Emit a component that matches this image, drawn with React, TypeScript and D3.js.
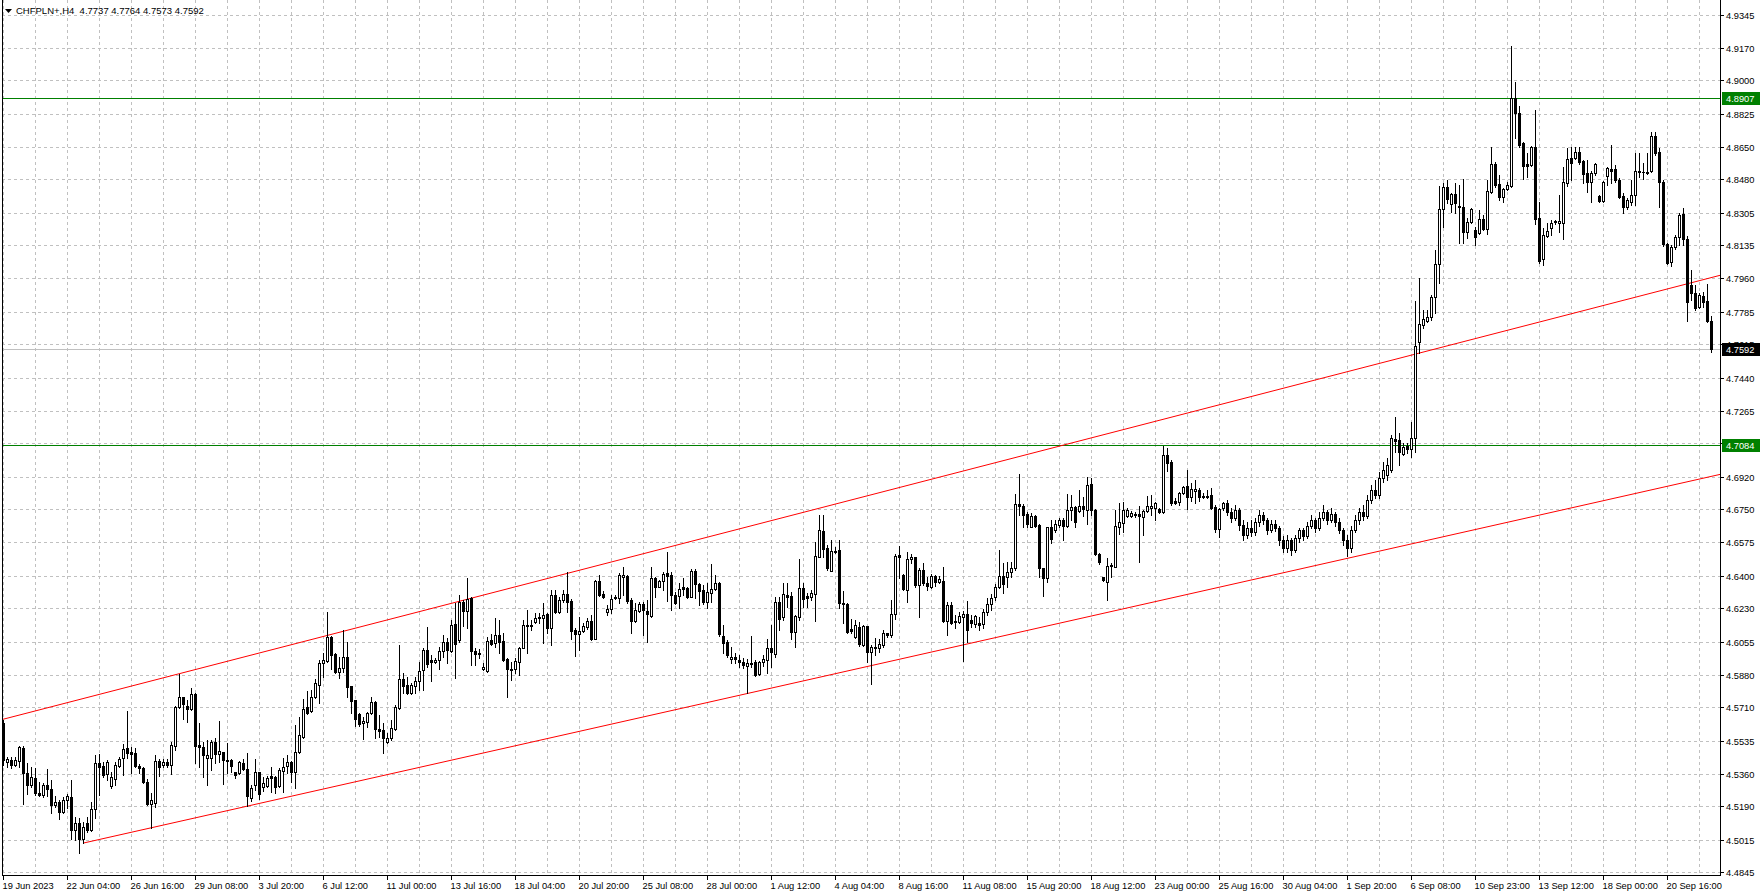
import React from "react";
import * as d3 from "d3";

const symbolTitle = "CHFPLN+,H4";
const titleValues = ["4.7737", "4.7764", "4.7573", "4.7592"];

const opens = [
4.5628,4.5423,4.5434,4.5407,4.5428,4.5497,4.5365,4.5302,4.5339,4.5261,
4.5250,4.5302,4.5281,4.5198,4.5213,4.5161,4.5224,4.5240,4.5066,4.5103,
4.5019,4.5103,4.5066,4.5177,4.5418,4.5402,4.5360,4.5297,4.5334,4.5402,
4.5444,4.5497,4.5476,4.5470,4.5402,4.5392,4.5318,4.5203,4.5208,4.5428,
4.5407,4.5423,4.5407,4.5507,4.5712,4.5764,4.5717,4.5701,4.5780,4.5512,
4.5502,4.5444,4.5444,4.5528,4.5465,4.5476,4.5434,4.5434,4.5371,4.5365,
4.5418,4.5386,4.5234,4.5302,4.5371,4.5292,4.5297,4.5350,4.5344,4.5297,
4.5376,4.5402,4.5423,4.5371,4.5476,4.5554,4.5712,4.5691,4.5764,4.5827,
4.5943,4.5953,4.6079,4.5990,4.5895,4.5916,4.5974,4.5822,4.5749,4.5675,
4.5628,4.5633,4.5680,4.5738,4.5596,4.5591,4.5528,4.5549,4.5596,4.5707,
4.5859,4.5827,4.5785,4.5822,4.5848,4.5906,4.6011,4.5958,4.5948,4.5958,
4.6006,4.6053,4.6006,4.6147,4.6063,4.6263,4.6215,4.6284,4.6006,4.5995,
4.5911,4.5901,4.6063,4.6048,4.6090,4.6058,4.5964,4.5911,4.5911,4.5948,
4.6021,4.6137,4.6137,4.6158,4.6179,4.6179,4.6200,4.6126,4.6299,4.6210,
4.6273,4.6305,4.6268,4.6116,4.6095,4.6111,4.6132,4.6163,4.6069,4.6373,
4.6305,4.6210,4.6226,4.6284,4.6284,4.6394,4.6399,4.6273,4.6163,4.6215,
4.6252,4.6215,4.6189,4.6389,4.6341,4.6373,4.6415,4.6404,4.6299,4.6294,
4.6341,4.6336,4.6289,4.6425,4.6357,4.6326,4.6263,4.6310,4.6331,4.6362,
4.6084,4.6053,4.5964,4.5974,4.5958,4.5948,4.5927,4.5943,4.5948,4.5885,
4.5948,4.5958,4.6021,4.5990,4.6263,4.6184,4.6299,4.6294,4.6105,4.6184,
4.6336,4.6294,4.6289,4.6305,4.6499,4.6635,4.6546,4.6425,4.6530,4.6536,
4.6257,4.6252,4.6121,4.6079,4.6132,4.6037,4.6137,4.6000,4.6027,4.6021,
4.6037,4.6100,4.6090,4.6200,4.6509,4.6404,4.6326,4.6488,4.6499,4.6352,
4.6431,4.6362,4.6341,4.6399,4.6368,4.6373,4.6163,4.6247,4.6163,4.6158,
4.6184,4.6200,4.6168,4.6147,4.6153,4.6147,4.6210,4.6252,4.6289,4.6341,
4.6399,4.6394,4.6420,4.6441,4.6777,4.6766,4.6724,4.6656,4.6714,4.6667,
4.6441,4.6389,4.6656,4.6640,4.6667,4.6693,4.6661,4.6745,4.6761,4.6740,
4.6766,4.6745,4.6882,4.6745,4.6514,4.6394,4.6368,4.6452,4.6446,4.6656,
4.6677,4.6714,4.6714,4.6724,4.6724,4.6709,4.6740,4.6756,4.6756,4.6751,
4.6735,4.7034,4.6997,4.6793,4.6787,4.6835,4.6871,4.6814,4.6845,4.6850,
4.6819,4.6819,4.6824,4.6761,4.6646,4.6756,4.6782,4.6735,4.6703,4.6745,
4.6667,4.6614,4.6651,4.6630,4.6682,4.6719,4.6693,4.6640,4.6672,4.6651,
4.6588,4.6546,4.6588,4.6536,4.6598,4.6640,4.6609,4.6661,4.6693,4.6651,
4.6703,4.6735,4.6693,4.6724,4.6682,4.6640,4.6588,4.6546,4.6640,4.6693,
4.6735,4.6714,4.6798,4.6850,4.6824,4.6913,4.6929,4.6955,4.7118,4.7113,
4.7039,4.7081,4.7065,4.7123,4.7627,4.7716,4.7737,4.7758,4.7863,4.8036,
4.8325,4.8440,4.8351,4.8403,4.8340,4.8335,4.8204,4.8256,4.8214,4.8199,
4.8272,4.8220,4.8414,4.8561,4.8456,4.8388,4.8430,4.8445,4.8907,4.8828,
4.8671,4.8561,4.8555,4.8650,4.8277,4.8062,4.8183,4.8225,4.8256,4.8251,
4.8251,4.8461,4.8592,4.8592,4.8624,4.8576,4.8513,4.8466,4.8513,4.8393,
4.8367,4.8498,4.8534,4.8534,4.8477,4.8393,4.8335,4.8361,4.8398,4.8519,
4.8519,4.8519,4.8524,4.8708,4.8624,4.8466,4.8141,4.8047,4.8125,4.8178,
4.8298,4.8167,4.7926,4.7884,4.7810,4.7868,4.7842,4.7737];

const highs = [
4.5644,4.5449,4.5449,4.5449,4.5507,4.5507,4.5418,4.5397,4.5392,4.5318,
4.5313,4.5386,4.5329,4.5245,4.5224,4.5240,4.5255,4.5329,4.5135,4.5129,
4.5108,4.5135,4.5213,4.5460,4.5465,4.5423,4.5434,4.5371,4.5423,4.5449,
4.5518,4.5691,4.5502,4.5497,4.5413,4.5397,4.5334,4.5261,4.5460,4.5439,
4.5439,4.5439,4.5528,4.5717,4.5885,4.5764,4.5749,4.5811,4.5785,4.5628,
4.5528,4.5539,4.5539,4.5549,4.5638,4.5476,4.5523,4.5439,4.5371,4.5428,
4.5439,4.5470,4.5302,4.5439,4.5371,4.5344,4.5350,4.5397,4.5350,4.5392,
4.5444,4.5460,4.5428,4.5617,4.5659,4.5754,4.5796,4.5801,4.5859,4.5958,
4.5995,4.6210,4.6084,4.5995,4.5974,4.6116,4.6053,4.5822,4.5749,4.5680,
4.5659,4.5686,4.5764,4.5743,4.5670,4.5628,4.5575,4.5644,4.5722,4.6037,
4.5890,4.5869,4.5838,4.5869,4.5948,4.6021,4.6132,4.5985,4.5969,4.6027,
4.6090,4.6074,4.6168,4.6257,4.6299,4.6273,4.6389,4.6289,4.6021,4.6016,
4.5943,4.6079,4.6095,4.6179,4.6168,4.6100,4.5969,4.5948,4.5969,4.6027,
4.6168,4.6221,4.6168,4.6205,4.6205,4.6257,4.6205,4.6326,4.6326,4.6289,
4.6326,4.6420,4.6278,4.6126,4.6184,4.6153,4.6179,4.6194,4.6378,4.6404,
4.6320,4.6247,4.6299,4.6299,4.6415,4.6446,4.6404,4.6284,4.6257,4.6263,
4.6263,4.6273,4.6446,4.6394,4.6378,4.6420,4.6525,4.6420,4.6315,4.6362,
4.6389,4.6341,4.6436,4.6436,4.6362,4.6352,4.6362,4.6462,4.6404,4.6368,
4.6142,4.6063,4.6027,4.5995,4.5985,4.5969,4.5964,4.6084,4.5958,4.5953,
4.5985,4.6069,4.6142,4.6289,4.6289,4.6362,4.6362,4.6315,4.6194,4.6488,
4.6362,4.6310,4.6326,4.6577,4.6719,4.6719,4.6562,4.6588,4.6551,4.6588,
4.6320,4.6257,4.6173,4.6168,4.6158,4.6142,4.6137,4.6037,4.6074,4.6069,
4.6116,4.6100,4.6273,4.6514,4.6556,4.6410,4.6525,4.6514,4.6499,4.6441,
4.6467,4.6394,4.6410,4.6404,4.6399,4.6446,4.6263,4.6263,4.6194,4.6210,
4.6215,4.6268,4.6194,4.6194,4.6184,4.6226,4.6284,4.6305,4.6357,4.6536,
4.6467,4.6472,4.6472,4.6829,4.6934,4.6777,4.6735,4.6730,4.6719,4.6672,
4.6441,4.6656,4.6693,4.6693,4.6703,4.6703,4.6829,4.6824,4.6766,4.6850,
4.6814,4.6919,4.6913,4.6751,4.6520,4.6394,4.6494,4.6467,4.6745,4.6782,
4.6787,4.6756,4.6740,4.6735,4.6766,4.6745,4.6819,4.6824,4.6787,4.6756,
4.7081,4.7071,4.7008,4.6808,4.6840,4.6871,4.6955,4.6887,4.6903,4.6861,
4.6835,4.6850,4.6861,4.6772,4.6756,4.6787,4.6798,4.6756,4.6772,4.6756,
4.6693,4.6682,4.6693,4.6703,4.6745,4.6735,4.6703,4.6693,4.6693,4.6661,
4.6609,4.6614,4.6598,4.6614,4.6651,4.6651,4.6682,4.6719,4.6703,4.6735,
4.6772,4.6745,4.6756,4.6735,4.6703,4.6651,4.6614,4.6661,4.6719,4.6756,
4.6772,4.6824,4.6877,4.6903,4.6945,4.6997,4.7018,4.7139,4.7233,4.7149,
4.7097,4.7097,4.7207,4.7842,4.7963,4.7795,4.7795,4.7873,4.8110,4.8445,
4.8461,4.8477,4.8409,4.8461,4.8450,4.8482,4.8277,4.8330,4.8230,4.8319,
4.8293,4.8477,4.8650,4.8571,4.8503,4.8435,4.8466,4.9180,4.8991,4.8865,
4.8676,4.8618,4.8655,4.8844,4.8361,4.8225,4.8251,4.8267,4.8267,4.8398,
4.8545,4.8645,4.8650,4.8650,4.8650,4.8582,4.8582,4.8524,4.8566,4.8398,
4.8472,4.8545,4.8660,4.8555,4.8487,4.8409,4.8382,4.8477,4.8618,4.8618,
4.8566,4.8618,4.8729,4.8729,4.8645,4.8477,4.8146,4.8136,4.8188,4.8304,
4.8330,4.8183,4.8005,4.7926,4.7884,4.7889,4.7931,4.7764];

const lows = [
4.5407,4.5397,4.5392,4.5402,4.5397,4.5203,4.5255,4.5292,4.5250,4.5245,
4.5240,4.5245,4.5156,4.5187,4.5124,4.5156,4.5182,4.5019,4.5014,4.4946,
4.4998,4.5056,4.5061,4.5129,4.5250,4.5344,4.5329,4.5287,4.5302,4.5397,
4.5355,4.5444,4.5365,4.5397,4.5365,4.5313,4.5198,4.5077,4.5187,4.5350,
4.5397,4.5397,4.5360,4.5486,4.5707,4.5649,4.5633,4.5696,4.5418,4.5397,
4.5344,4.5302,4.5381,4.5418,4.5423,4.5308,4.5365,4.5371,4.5339,4.5360,
4.5381,4.5192,4.5219,4.5276,4.5229,4.5271,4.5292,4.5266,4.5261,4.5292,
4.5266,4.5365,4.5318,4.5287,4.5470,4.5549,4.5675,4.5686,4.5759,4.5733,
4.5869,4.5948,4.5911,4.5890,4.5864,4.5895,4.5764,4.5680,4.5612,4.5612,
4.5544,4.5607,4.5675,4.5549,4.5554,4.5470,4.5523,4.5539,4.5591,4.5701,
4.5785,4.5780,4.5780,4.5785,4.5801,4.5801,4.5922,4.5848,4.5943,4.5911,
4.5974,4.5943,4.6000,4.5864,4.6053,4.6137,4.6126,4.5932,4.5932,4.5969,
4.5906,4.5895,4.6037,4.6027,4.5995,4.5953,4.5764,4.5853,4.5890,4.5880,
4.6021,4.5995,4.6116,4.6153,4.6153,4.6048,4.6100,4.6037,4.6205,4.6205,
4.6263,4.6210,4.6069,4.5979,4.6011,4.6105,4.6121,4.6063,4.6069,4.6294,
4.6284,4.6194,4.6205,4.6278,4.6257,4.6299,4.6257,4.6100,4.6158,4.6210,
4.6090,4.6053,4.6184,4.6289,4.6341,4.6326,4.6268,4.6221,4.6252,4.6231,
4.6299,4.6284,4.6289,4.6284,4.6247,4.6252,4.6231,4.6263,4.6326,4.6084,
4.5995,4.5974,4.5943,4.5943,4.5922,4.5916,4.5785,4.5922,4.5874,4.5880,
4.5927,4.5890,4.5922,4.5974,4.6116,4.6168,4.6236,4.6069,4.6027,4.6168,
4.6236,4.6236,4.6273,4.6163,4.6498,4.6499,4.6431,4.6425,4.6520,4.6231,
4.6153,4.6100,4.6100,4.6074,4.6032,4.6032,4.5948,4.5832,4.5985,4.6000,
4.6027,4.6079,4.6079,4.6173,4.6389,4.6326,4.6263,4.6467,4.6341,4.6184,
4.6352,4.6326,4.6336,4.6347,4.6362,4.6158,4.6090,4.6147,4.6126,4.6153,
4.5953,4.6053,4.6132,4.6132,4.6116,4.6126,4.6194,4.6221,4.6273,4.6336,
4.6310,4.6341,4.6394,4.6431,4.6719,4.6656,4.6656,4.6656,4.6656,4.6394,
4.6294,4.6368,4.6572,4.6630,4.6656,4.6588,4.6656,4.6693,4.6656,4.6735,
4.6714,4.6672,4.6719,4.6509,4.6462,4.6373,4.6273,4.6394,4.6446,4.6619,
4.6630,4.6709,4.6709,4.6709,4.6472,4.6614,4.6735,4.6719,4.6693,4.6730,
4.6730,4.6950,4.6772,4.6777,4.6772,4.6829,4.6751,4.6793,4.6782,4.6793,
4.6808,4.6808,4.6751,4.6630,4.6604,4.6745,4.6719,4.6682,4.6693,4.6640,
4.6588,4.6598,4.6609,4.6614,4.6661,4.6672,4.6619,4.6630,4.6635,4.6562,
4.6525,4.6525,4.6509,4.6525,4.6577,4.6588,4.6598,4.6651,4.6630,4.6640,
4.6693,4.6672,4.6682,4.6661,4.6625,4.6562,4.6504,4.6525,4.6630,4.6672,
4.6693,4.6703,4.6782,4.6808,4.6808,4.6892,4.6903,4.6945,4.7050,4.6982,
4.7034,4.7044,4.7023,4.7050,4.7569,4.7700,4.7732,4.7742,4.7779,4.7936,
4.8230,4.8356,4.8309,4.8304,4.8146,4.8146,4.8172,4.8251,4.8136,4.8193,
4.8214,4.8193,4.8409,4.8440,4.8372,4.8361,4.8424,4.8440,4.8697,4.8650,
4.8482,4.8492,4.8550,4.8246,4.8041,4.8031,4.8178,4.8188,4.8246,4.8204,
4.8167,4.8445,4.8477,4.8587,4.8561,4.8461,4.8414,4.8361,4.8503,4.8361,
4.8361,4.8450,4.8461,4.8466,4.8382,4.8304,4.8325,4.8346,4.8346,4.8492,
4.8482,4.8508,4.8519,4.8608,4.8335,4.8131,4.8036,4.8026,4.8115,4.8136,
4.8136,4.7737,4.7847,4.7795,4.7805,4.7810,4.7732,4.7573];

const closes = [
4.5434,4.5439,4.5407,4.5434,4.5502,4.5365,4.5302,4.5344,4.5261,4.5250,
4.5302,4.5281,4.5198,4.5213,4.5161,4.5224,4.5245,4.5066,4.5103,4.5019,
4.5082,4.5066,4.5177,4.5418,4.5397,4.5355,4.5423,4.5344,4.5407,4.5439,
4.5491,4.5470,4.5465,4.5402,4.5392,4.5318,4.5203,4.5224,4.5428,4.5397,
4.5423,4.5407,4.5512,4.5712,4.5764,4.5728,4.5701,4.5780,4.5507,4.5502,
4.5460,4.5460,4.5528,4.5465,4.5481,4.5434,4.5428,4.5402,4.5355,4.5423,
4.5386,4.5245,4.5287,4.5371,4.5255,4.5313,4.5339,4.5339,4.5292,4.5381,
4.5397,4.5423,4.5371,4.5476,4.5565,4.5701,4.5680,4.5764,4.5838,4.5943,
4.5958,4.6079,4.5985,4.5895,4.5916,4.5974,4.5817,4.5743,4.5649,4.5623,
4.5638,4.5680,4.5738,4.5596,4.5586,4.5549,4.5549,4.5602,4.5712,4.5859,
4.5822,4.5785,4.5827,4.5848,4.5901,4.6011,4.5937,4.5948,4.5958,4.6006,
4.6053,4.6011,4.6142,4.6042,4.6263,4.6215,4.6278,4.6006,4.5990,4.5990,
4.5922,4.6058,4.6042,4.6090,4.6053,4.5958,4.5911,4.5906,4.5953,4.6021,
4.6142,4.6142,4.6142,4.6179,4.6184,4.6194,4.6126,4.6299,4.6210,4.6273,
4.6305,4.6263,4.6111,4.6095,4.6111,4.6137,4.6163,4.6069,4.6373,4.6299,
4.6289,4.6226,4.6278,4.6289,4.6404,4.6404,4.6268,4.6163,4.6221,4.6252,
4.6221,4.6200,4.6389,4.6341,4.6373,4.6410,4.6399,4.6299,4.6257,4.6331,
4.6331,4.6289,4.6425,4.6357,4.6320,4.6263,4.6315,4.6331,4.6362,4.6095,
4.6048,4.5985,4.5974,4.5964,4.5948,4.5932,4.5943,4.5937,4.5880,4.5948,
4.5964,4.6021,4.6000,4.6263,4.6173,4.6305,4.6289,4.6105,4.6189,4.6336,
4.6278,4.6284,4.6310,4.6504,4.6640,4.6541,4.6441,4.6530,4.6525,4.6257,
4.6252,4.6105,4.6111,4.6142,4.6042,4.6137,4.6000,4.6027,4.6021,4.6042,
4.6100,4.6090,4.6200,4.6504,4.6499,4.6331,4.6488,4.6499,4.6352,4.6431,
4.6362,4.6347,4.6399,4.6368,4.6383,4.6163,4.6247,4.6153,4.6158,4.6189,
4.6200,4.6116,4.6153,4.6189,4.6142,4.6210,4.6252,4.6284,4.6341,4.6399,
4.6357,4.6420,4.6441,4.6777,4.6766,4.6719,4.6672,4.6714,4.6661,4.6441,
4.6389,4.6656,4.6593,4.6672,4.6693,4.6661,4.6745,4.6761,4.6682,4.6766,
4.6751,4.6877,4.6745,4.6514,4.6472,4.6378,4.6452,4.6457,4.6661,4.6682,
4.6745,4.6745,4.6730,4.6719,4.6714,4.6740,4.6766,4.6766,4.6782,4.6735,
4.7034,4.6992,4.6782,4.6782,4.6835,4.6866,4.6814,4.6856,4.6856,4.6814,
4.6814,4.6814,4.6756,4.6646,4.6751,4.6782,4.6735,4.6703,4.6745,4.6667,
4.6614,4.6651,4.6630,4.6682,4.6719,4.6693,4.6640,4.6672,4.6651,4.6588,
4.6546,4.6588,4.6536,4.6598,4.6640,4.6609,4.6661,4.6693,4.6651,4.6703,
4.6735,4.6693,4.6724,4.6682,4.6640,4.6588,4.6546,4.6640,4.6693,4.6735,
4.6714,4.6798,4.6850,4.6824,4.6913,4.6955,4.6982,4.7123,4.7107,4.7050,
4.7076,4.7065,4.7123,4.7606,4.7721,4.7747,4.7758,4.7863,4.8036,4.8325,
4.8440,4.8377,4.8403,4.8356,4.8335,4.8204,4.8256,4.8325,4.8178,4.8272,
4.8220,4.8419,4.8561,4.8450,4.8388,4.8430,4.8450,4.8907,4.8828,4.8660,
4.8550,4.8550,4.8650,4.8272,4.8052,4.8188,4.8209,4.8251,4.8262,4.8262,
4.8466,4.8587,4.8566,4.8624,4.8571,4.8508,4.8466,4.8513,4.8561,4.8367,
4.8466,4.8540,4.8524,4.8477,4.8388,4.8335,4.8372,4.8398,4.8524,4.8524,
4.8521,4.8513,4.8708,4.8618,4.8466,4.8141,4.8041,4.8125,4.8178,4.8293,
4.8167,4.7837,4.7884,4.7805,4.7873,4.7837,4.7737,4.7592];

const priceTicks = [
  4.9345, 4.917, 4.9, 4.8825, 4.865, 4.848, 4.8305, 4.8135, 4.796, 4.7785,
  4.7615, 4.744, 4.7265, 4.7095, 4.692, 4.675, 4.6575, 4.64, 4.623, 4.6055,
  4.588, 4.571, 4.5535, 4.536, 4.519, 4.5015, 4.4845,
];

const timeLabels = [
  "19 Jun 2023", "22 Jun 04:00", "26 Jun 16:00", "29 Jun 08:00", "3 Jul 20:00",
  "6 Jul 12:00", "11 Jul 00:00", "13 Jul 16:00", "18 Jul 04:00", "20 Jul 20:00",
  "25 Jul 08:00", "28 Jul 00:00", "1 Aug 12:00", "4 Aug 04:00", "8 Aug 16:00",
  "11 Aug 08:00", "15 Aug 20:00", "18 Aug 12:00", "23 Aug 00:00", "25 Aug 16:00",
  "30 Aug 04:00", "1 Sep 20:00", "6 Sep 08:00", "10 Sep 23:00", "13 Sep 12:00",
  "18 Sep 00:00", "20 Sep 16:00",
];

const levelLines = [4.8907, 4.7084];
const currentPrice = 4.7592;
const upperChannel = [
  { bar: 0, price: 4.5648 },
  { bar: 427, price: 4.7965 },
];
const lowerChannel = [
  { bar: 20, price: 4.4998 },
  { bar: 427, price: 4.6922 },
];

const W = 1761;
const H = 896;
const FONT = "'Liberation Sans', Arial, sans-serif";

export default function App() {
  const plotLeft = 2;
  const plotRight = 1720;
  const plotTop = 0;
  const plotBottom = 875;
  const n = opens.length;

  const x = d3.scaleLinear().domain([0, n - 1]).range([3.5, 3.5 + 4 * (n - 1)]);
  const y = d3.scaleLinear().domain([4.4845, 4.9345]).range([872.2, 14.5]);
  const ry = (v: number) => Math.round(y(v));

  const vGrid = d3.range(0, n + 8, 8).map((i) => x(i)).filter((v) => v < plotRight);
  const labelBars = timeLabels.map((_, k) => k * 16);

  const lineAt = (pts: { bar: number; price: number }[], bar: number) => {
    const s = (pts[1].price - pts[0].price) / (pts[1].bar - pts[0].bar);
    return pts[0].price + s * (bar - pts[0].bar);
  };
  const barAtX = (px: number) => x.invert(px);
  const upperX1 = plotLeft;
  const upperX2 = plotRight;
  const lowerX1 = x(lowerChannel[0].bar);

  const candles = d3.range(n).map((i) => {
    const o = opens[i], c = closes[i], h = highs[i], l = lows[i];
    const cx = x(i);
    const top = ry(Math.max(o, c));
    const bot = ry(Math.min(o, c));
    const wTop = Math.min(ry(h), top);
    const wBot = Math.max(ry(l), bot);
    const bull = c > o;
    return (
      <g key={i}>
        <rect x={cx - 0.5} y={wTop} width={1} height={wBot - wTop + 1} fill="#000" />
        {bot - top < 1 ? (
          <rect x={cx - 1.5} y={top} width={3} height={1} fill="#000" />
        ) : bull ? (
          <rect x={cx - 1} y={top + 0.5} width={2} height={bot - top} fill="#fff" stroke="#000" strokeWidth={1} />
        ) : (
          <rect x={cx - 1.5} y={top} width={3} height={bot - top + 1} fill="#000" />
        )}
      </g>
    );
  });

  const curY = ry(currentPrice) + 0.5;

  return (
    <div style={{ position: "absolute", left: 0, top: 0, width: W, height: H, background: "#fff" }}>
      <svg width={W} height={H} viewBox={`0 0 ${W} ${H}`} style={{ display: "block" }} shapeRendering="crispEdges">
        <defs>
          <clipPath id="plotClip">
            <rect x={plotLeft} y={plotTop} width={plotRight - plotLeft} height={plotBottom - plotTop} />
          </clipPath>
        </defs>
        <rect x={0} y={0} width={W} height={H} fill="#fff" />

        <g stroke="#c0c0c0" strokeWidth={1} strokeDasharray="3,3">
          {vGrid.map((gx, k) => (
            <line key={"vg" + k} x1={gx} x2={gx} y1={plotTop} y2={plotBottom} />
          ))}
          {priceTicks.map((v, k) => (
            <line key={"hg" + k} x1={plotLeft} x2={plotRight} y1={ry(v) + 0.5} y2={ry(v) + 0.5} />
          ))}
        </g>

        <g clipPath="url(#plotClip)">
          <line x1={plotLeft} x2={plotRight} y1={curY} y2={curY} stroke="#c0c0c0" strokeWidth={1} />
          {levelLines.map((v, k) => (
            <line key={"lv" + k} x1={plotLeft} x2={plotRight} y1={ry(v) + 0.5} y2={ry(v) + 0.5} stroke="#008000" strokeWidth={1} />
          ))}
          <line
            x1={upperX1}
            x2={upperX2}
            y1={y(lineAt(upperChannel, barAtX(upperX1)))}
            y2={y(lineAt(upperChannel, barAtX(upperX2)))}
            stroke="#ff0000"
            strokeWidth={1}
            shapeRendering="auto"
          />
          <line
            x1={lowerX1}
            x2={plotRight}
            y1={y(lowerChannel[0].price)}
            y2={y(lineAt(lowerChannel, barAtX(plotRight)))}
            stroke="#ff0000"
            strokeWidth={1}
            shapeRendering="auto"
          />
          {candles}
        </g>

        <g stroke="#000" strokeWidth={1}>
          <line x1={plotLeft + 0.5} x2={plotLeft + 0.5} y1={plotTop} y2={plotBottom + 0.5} />
          <line x1={plotRight + 0.5} x2={plotRight + 0.5} y1={plotTop} y2={plotBottom + 0.5} />
          <line x1={plotLeft} x2={plotRight + 1} y1={plotBottom + 0.5} y2={plotBottom + 0.5} />
        </g>

        <g fontFamily={FONT} fontSize={9.3} fill="#000">
          {priceTicks.map((v, k) => (
            <g key={"pt" + k}>
              <line x1={plotRight + 1} x2={plotRight + 4} y1={ry(v) + 0.5} y2={ry(v) + 0.5} stroke="#000" />
              <text x={plotRight + 6} y={ry(v) + 3.5}>{v.toFixed(4)}</text>
            </g>
          ))}
        </g>

        <g fontFamily={FONT} fontSize={9.3}>
          {levelLines.map((v, k) => (
            <g key={"ll" + k}>
              <rect x={plotRight + 2} y={ry(v) - 6} width={38} height={13} fill="#008000" />
              <text x={plotRight + 6} y={ry(v) + 3.5} fill="#fff">{v.toFixed(4)}</text>
            </g>
          ))}
          <rect x={plotRight + 2} y={ry(currentPrice) - 6} width={38} height={13} fill="#000" />
          <text x={plotRight + 6} y={ry(currentPrice) + 3.5} fill="#fff">{currentPrice.toFixed(4)}</text>
        </g>

        <g fontFamily={FONT} fontSize={9.3} fill="#000">
          {labelBars.map((b, k) => (
            <g key={"tl" + k}>
              <line x1={x(b)} x2={x(b)} y1={plotBottom + 1} y2={plotBottom + 5} stroke="#000" />
              <text x={x(b) - 1} y={889}>{timeLabels[k]}</text>
            </g>
          ))}
        </g>

        <path d="M5,9 L12,9 L8.5,13 Z" fill="#000" shapeRendering="auto" />
        <text x={16} y={14} fontFamily={FONT} fontSize={9.5} fill="#000" style={{ whiteSpace: "pre" }}>
          {symbolTitle + "  " + titleValues.join(" ")}
        </text>
      </svg>
    </div>
  );
}
